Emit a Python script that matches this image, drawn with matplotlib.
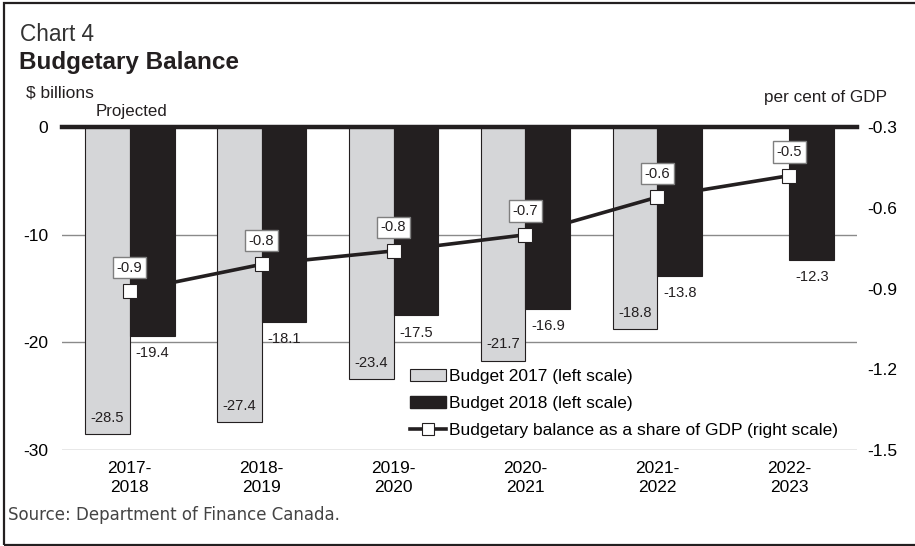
import numpy as np
import matplotlib
matplotlib.use("Agg")
import matplotlib.pyplot as plt
from matplotlib.patches import Patch, Rectangle
from matplotlib.lines import Line2D

plt.rcParams['font.family'] = ['Liberation Sans', 'DejaVu Sans']

categories = ["2017-\n2018", "2018-\n2019", "2019-\n2020", "2020-\n2021", "2021-\n2022", "2022-\n2023"]
budget2017 = [-28.5, -27.4, -23.4, -21.7, -18.8, np.nan]
budget2018 = [-19.4, -18.1, -17.5, -16.9, -13.8, -12.3]
gdp_share = [-0.91, -0.81, -0.76, -0.70, -0.56, -0.48]
left_ticks = [0, -10, -20, -30]
right_ticks = [-0.3, -0.6, -0.9, -1.2, -1.5]

GREY = "#d5d6d8"
BLACK = "#231f20"

fig = plt.figure(figsize=(9.15, 5.46), dpi=100)
ax = fig.add_axes([0.068, 0.176, 0.869, 0.591])
ax2 = ax.twinx()

x = np.arange(len(categories))
w = 0.34

# gridlines
for t in left_ticks[1:]:
    ax.axhline(t, color="#8a8a8a", lw=1.0, zorder=0)

ax.bar(x - w / 2, budget2017, width=w, color=GREY, edgecolor=BLACK, linewidth=0.8, zorder=2)
ax.bar(x + w / 2, budget2018, width=w, color=BLACK, edgecolor=BLACK, linewidth=0.8, zorder=2)

ax.axhline(0, color=BLACK, lw=3.2, zorder=5, clip_on=False)

for xi, v in zip(x, budget2017):
    if not np.isnan(v):
        ax.text(xi - w / 2, v + 1.5, f"{v:.1f}", ha="center", va="center", fontsize=10.6, color=BLACK, zorder=6)
for xi, v in zip(x, budget2018):
    ax.text(xi + w / 2, v - 1.6, f"{v:.1f}", ha="center", va="center", fontsize=10.6, color=BLACK, zorder=6)

ax.set_xlim(-0.511, 5.515)
ax.set_ylim(-30, 0)
ax.set_yticks(left_ticks)
ax.set_yticklabels([str(t) for t in left_ticks], fontsize=12.5)
ax.set_xticks(x)
ax.set_xticklabels(categories, fontsize=12.5, linespacing=1.3)
ax.tick_params(axis="y", length=0, pad=10)
ax.tick_params(axis="x", length=0, pad=8)
for s in ax.spines.values():
    s.set_visible(False)

ax2.plot(x, gdp_share, color=BLACK, lw=2.6, marker="s", markersize=10,
         markerfacecolor="white", markeredgecolor=BLACK, markeredgewidth=0.8, zorder=7)
for xi, v in zip(x, gdp_share):
    ax2.annotate(f"{v:.1f}", (xi, v), xytext=(0, 17), textcoords="offset points",
                 ha="center", va="center", fontsize=10.6, color=BLACK, zorder=8,
                 bbox=dict(boxstyle="square,pad=0.25", fc="white", ec="#7f7f7f", lw=1))
ax2.set_ylim(-1.5, -0.3)
ax2.set_yticks(right_ticks)
ax2.set_yticklabels([f"{t:.1f}" for t in right_ticks], fontsize=12.5)
ax2.tick_params(axis="y", length=0, pad=7)
for s in ax2.spines.values():
    s.set_visible(False)

handles = [
    Patch(facecolor=GREY, edgecolor=BLACK, linewidth=0.8),
    Patch(facecolor=BLACK, edgecolor=BLACK),
    Line2D([0], [0], color=BLACK, lw=2.6, marker="s", markersize=8,
           markerfacecolor="white", markeredgecolor=BLACK, markeredgewidth=0.8),
]
labels = ["Budget 2017 (left scale)", "Budget 2018 (left scale)",
          "Budgetary balance as a share of GDP (right scale)"]
fig.legend(handles, labels, loc="upper left", bbox_to_anchor=(0.448, 0.325),
           frameon=False, fontsize=12.5, handlelength=2.07, handletextpad=0.17,
           labelspacing=0.68, borderpad=0, borderaxespad=0)

fig.text(0.022, 0.936, "Chart 4", fontsize=16.3, color="#333333", va="center", ha="left")
fig.text(0.021, 0.886, "Budgetary Balance", fontsize=17.5, color=BLACK, va="center", ha="left", fontweight="bold")
fig.text(0.028, 0.830, "$ billions", fontsize=12.5, color=BLACK, va="center", ha="left")
fig.text(0.104, 0.795, "Projected", fontsize=12.2, color=BLACK, va="center", ha="left")
fig.text(0.9695, 0.822, "per cent of GDP", fontsize=12.3, color=BLACK, va="center", ha="right")
fig.text(0.009, 0.057, "Source: Department of Finance Canada.", fontsize=12, color="#444444",
         va="center", ha="left", family="DejaVu Sans")

fig.patches.append(Rectangle((0.0045, 0.0025), 1.2, 0.9915, transform=fig.transFigure,
                             fill=False, edgecolor=BLACK, lw=1.6, zorder=10))

fig.savefig("out.png", dpi=100)
